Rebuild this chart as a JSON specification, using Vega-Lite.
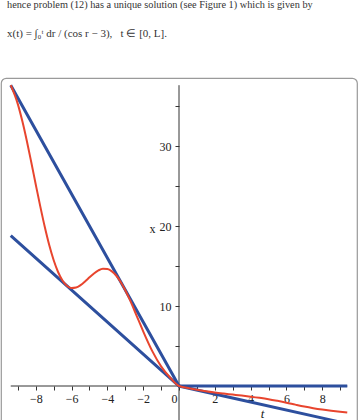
{
  "$schema": "https://vega.github.io/schema/vega-lite/v6.json",
  "width": 356,
  "height": 352,
  "autosize": "none",
  "padding": {"left": 1, "top": 78, "right": 3, "bottom": 0},
  "background": "white",
  "config": {
    "view": {"stroke": "#9a9a9a", "strokeWidth": 1.2, "cornerRadius": 5},
    "font": "Liberation Serif"
  },
  "title": {
    "text": "hence problem (12) has a unique solution (see Figure 1) which is given by",
    "subtitle": "\u00a0\u00a0\u00a0\u00a0\u00a0\u00a0\u00a0x(t) = ∫₀ᵗ dr / (cos r − 3),\u00a0\u00a0\u00a0t ∈ [0, L].",
    "anchor": "start",
    "frame": "group",
    "font": "Liberation Serif",
    "fontSize": 10.3,
    "fontWeight": "normal",
    "color": "#333333",
    "subtitleFont": "Liberation Serif",
    "subtitleFontSize": 11,
    "subtitleColor": "#333333",
    "subtitlePadding": 18,
    "offset": 39,
    "dx": 6
  },
  "datasets": {
    "axes": [
      {"t": -9.4, "t2": 9.4, "x": 0, "x2": 0},
      {"t": 0, "t2": 0, "x": -6, "x2": 37.6}
    ],
    "bounds": [
      {"s": "upper", "t": -9.4, "x": 37.6},
      {"s": "upper", "t": 0, "x": 0},
      {"s": "upper", "t": 9.4, "x": 0},
      {"s": "lower", "t": -9.4, "x": 18.8},
      {"s": "lower", "t": 0, "x": 0},
      {"s": "lower", "t": 9.4, "x": -4.7}
    ],
    "solution": [
      {"t": -9.4, "x": 37.6},
      {"t": -9.0, "x": 35.2},
      {"t": -8.75, "x": 33.08},
      {"t": -8.5, "x": 30.62},
      {"t": -8.25, "x": 27.93},
      {"t": -8.0, "x": 25.16},
      {"t": -7.75, "x": 22.45},
      {"t": -7.5, "x": 19.9},
      {"t": -7.25, "x": 17.62},
      {"t": -7.0, "x": 15.72},
      {"t": -6.75, "x": 14.22},
      {"t": -6.5, "x": 13.15},
      {"t": -6.25, "x": 12.5},
      {"t": -6.0, "x": 12.24},
      {"t": -5.75, "x": 12.3},
      {"t": -5.5, "x": 12.6},
      {"t": -5.25, "x": 13.06},
      {"t": -5.0, "x": 13.58},
      {"t": -4.75, "x": 14.07},
      {"t": -4.5, "x": 14.45},
      {"t": -4.25, "x": 14.65},
      {"t": -4.0, "x": 14.62},
      {"t": -3.75, "x": 14.33},
      {"t": -3.5, "x": 13.78},
      {"t": -3.25, "x": 12.98},
      {"t": -3.0, "x": 11.97},
      {"t": -2.75, "x": 10.79},
      {"t": -2.5, "x": 9.5},
      {"t": -2.25, "x": 8.16},
      {"t": -2.0, "x": 6.83},
      {"t": -1.5, "x": 4.39},
      {"t": -1.0, "x": 2.46},
      {"t": -0.5, "x": 1.06},
      {"t": 0.0, "x": 0.0},
      {"t": 0.5, "x": -0.245},
      {"t": 1.0, "x": -0.465},
      {"t": 1.5, "x": -0.651},
      {"t": 2.0, "x": -0.81},
      {"t": 2.5, "x": -0.947},
      {"t": 3.0, "x": -1.075},
      {"t": 3.5, "x": -1.201},
      {"t": 4.0, "x": -1.332},
      {"t": 4.5, "x": -1.478},
      {"t": 5.0, "x": -1.647},
      {"t": 5.5, "x": -1.855},
      {"t": 6.0, "x": -2.081},
      {"t": 6.5, "x": -2.329},
      {"t": 7.0, "x": -2.566},
      {"t": 7.5, "x": -2.771},
      {"t": 8.0, "x": -2.945},
      {"t": 8.5, "x": -3.092},
      {"t": 9.0, "x": -3.225},
      {"t": 9.4, "x": -3.326}
    ]
  },
  "encoding": {
    "x": {
      "field": "t",
      "type": "quantitative",
      "scale": {"domain": [-9.944, 9.944], "nice": false, "zero": false},
      "axis": {
        "orient": "bottom",
        "offset": -44,
        "domain": false,
        "grid": false,
        "values": [-9, -8, -7, -6, -5, -4, -3, -2, -1, 0, 1, 2, 3, 4, 5, 6, 7, 8, 9],
        "labelExpr": "datum.value % 2 === 0 ? datum.label : ''",
        "labelAlign": {"condition": {"test": "datum.value === 0", "value": "right"}, "value": "center"},
        "labelOffset": {"condition": {"test": "datum.value === 0", "value": -2}, "value": 0},
        "labelFont": "Liberation Serif",
        "labelFontSize": 12,
        "labelColor": "#222222",
        "labelPadding": 3,
        "labelFlush": false,
        "labelOverlap": false,
        "tickColor": "#333333",
        "tickSize": 4,
        "title": "t",
        "titleFont": "Liberation Serif",
        "titleFontSize": 13,
        "titleFontStyle": "italic",
        "titleFontWeight": "normal",
        "titleColor": "#222222",
        "titleX": 261,
        "titleY": 27,
        "titleAlign": "center",
        "titleBaseline": "middle"
      }
    },
    "y": {
      "field": "x",
      "type": "quantitative",
      "scale": {"domain": [-5.5, 38.5], "nice": false, "zero": false},
      "axis": {
        "orient": "left",
        "offset": -178,
        "domain": false,
        "grid": false,
        "values": [5, 10, 15, 20, 25, 30, 35],
        "labelExpr": "datum.value % 10 === 0 ? datum.label : ''",
        "labelFont": "Liberation Serif",
        "labelFontSize": 12,
        "labelColor": "#222222",
        "labelPadding": 4,
        "tickColor": "#333333",
        "tickSize": 4,
        "title": "x",
        "titleFont": "Liberation Serif",
        "titleFontSize": 12,
        "titleFontWeight": "normal",
        "titleColor": "#222222",
        "titleAngle": 0,
        "titleX": -27,
        "titleY": 150,
        "titleAlign": "center",
        "titleBaseline": "middle"
      }
    }
  },
  "layer": [
    {
      "data": {"name": "axes"},
      "mark": {"type": "rule", "color": "#333333", "strokeWidth": 1},
      "encoding": {
        "x2": {"field": "t2"},
        "y2": {"field": "x2"}
      }
    },
    {
      "data": {"name": "bounds"},
      "mark": {"type": "line", "color": "#2d4f9e", "strokeWidth": 3},
      "encoding": {
        "detail": {"field": "s", "type": "nominal"},
        "order": {"field": "t", "type": "quantitative"}
      }
    },
    {
      "data": {"name": "solution"},
      "mark": {"type": "line", "color": "#e8452e", "strokeWidth": 2, "interpolate": "monotone"},
      "encoding": {
        "order": {"field": "t", "type": "quantitative"}
      }
    }
  ]
}
